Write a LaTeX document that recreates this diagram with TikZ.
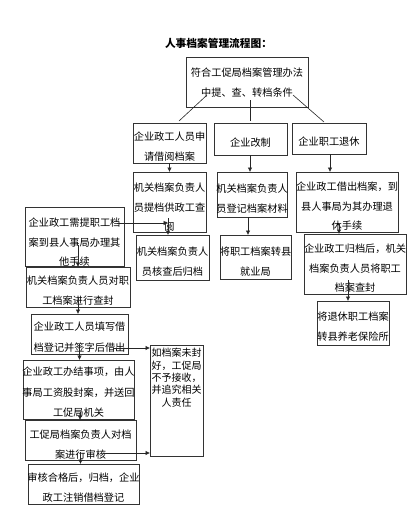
\documentclass[tikz,border=0pt]{standalone}
\usepackage{fontspec}
\newfontfamily\cjk{Noto Sans CJK SC}
\usetikzlibrary{calc,arrows.meta}
\tikzset{
  box/.style={draw=black!80, line width=0.6pt, rectangle, inner sep=0pt, outer sep=0pt},
  txt/.style={inner sep=0pt, outer sep=0pt, align=center, anchor=base, font=\cjk\fontsize{10.2}{19.5}\selectfont},
  txtw/.style={txt, font=\cjk\fontsize{10.2}{20.5}\selectfont},
  txtp/.style={txt, font=\cjk\fontsize{10}{12.3}\selectfont},
  ln/.style={draw=black!85, line width=0.6pt},
  arr/.style={ln, -{Latex[length=4.5pt,width=4.5pt]}}
}
\newcommand\mkbox[5]{%
  \node[box, minimum width={(#4)-(#2)}, minimum height={(#5)-(#3)}] (#1) at ({((#2)+(#4))/2},{((#3)+(#5))/2}) {};}
\begin{document}
\begin{tikzpicture}[x=1pt,y=-1pt]
\useasboundingbox (0,0) rectangle (417,528);
% title
\node[txt, font=\cjk\bfseries\fontsize{10.7}{12}\selectfont] (title) at (218.5,47) {人事档案管理流程图：};
% boxes
\mkbox{T}{186}{57}{308}{107}
\mkbox{A}{133}{123}{206}{163}
\mkbox{B}{214}{123}{287}{155}
\mkbox{C}{292}{123}{366}{154}
\mkbox{D}{133}{172}{206}{232}
\mkbox{E}{217}{172}{287}{217}
\mkbox{F}{296}{172}{398}{232}
\mkbox{G}{304}{234}{406}{294}
\mkbox{H}{317}{301}{389}{345}
\mkbox{I}{136}{235}{209}{280}
\mkbox{J}{220}{235}{291}{279}
\mkbox{K}{25}{207}{124}{266}
\mkbox{L}{26}{267}{130}{307}
\mkbox{M}{31}{314}{128}{354}
\mkbox{N}{23}{360}{134}{419}
\mkbox{Q}{25}{420}{136}{460}
\mkbox{R}{28}{464}{139}{504}
\mkbox{P}{150}{345}{203}{456}
% texts (anchor = baseline of the last line)
\node[txt] (Tt) at (247,96.4) {符合工促局档案管理办法\\中提、查、转档条件};
\node[txt] (At) at (169.5,160.4) {企业政工人员申\\请借阅档案};
\node[txt] (Bt) at (250.5,146.9) {企业改制};
\node[txt] (Ct) at (329,145.9) {企业职工退休};
\node[txt] (Dt) at (169.5,230.9) {机关档案负责人\\员提档供政工查\\阅};
\node[txt] (Et) at (252,212.4) {机关档案负责人\\员登记档案材料};
\node[txt] (Ft) at (347,229.9) {企业政工借出档案，到\\县人事局为其办理退\\休手续};
\node[txt] (Gt) at (355,291.9) {企业政工归档后，机关\\档案负责人员将职工\\档案查封};
\node[txt] (Ht) at (353,340.4) {将退休职工档案\\转县养老保险所};
\node[txt] (It) at (172.5,275.4) {机关档案负责人\\员核查后归档};
\node[txt] (Jt) at (255.5,275.4) {将职工档案转县\\就业局};
\node[txt] (Kt) at (74.5,265.9) {企业政工需提职工档\\案到县人事局办理其\\他手续};
\node[txt] (Lt) at (78,304.4) {机关档案负责人员对职\\工档案进行查封};
\node[txtw] (Mt) at (79.5,351.4) {企业政工人员填写借\\档登记并签字后借出};
\node[txtw] (Nt) at (78.5,416.9) {企业政工办结事项，由人\\事局工资股封案，并送回\\工促局机关};
\node[txt] (Qt) at (80.5,458.4) {工促局档案负责人对档\\案进行审核};
\node[txt] (Rt) at (83.5,501.4) {审核合格后，归档，企业\\政工注销借档登记};
\node[txtp] (Pt) at (176.5,406.0) {如档案未封\\好，工促局\\不予接收，\\并追究相关\\人责任};
% lines from top box
\draw[ln] ($(T.south)+(-40,-12)$) -- ($(A.north)+(9.5,-2)$);
\draw[ln] ($(T.south)+(3,-7)$) -- ($(B.north)+(-0.5,-2)$);
\draw[ln] ($(T.south)+(46,-12)$) -- ($(C.north)+(-5,-1)$);
% arrows
\draw[arr] (A.south) -- (D.north);
\coordinate (b1) at ($(B.south)+(-0.5,0)$);
\draw[arr] (b1) -- (b1 |- E.north);
\coordinate (c1) at ($(C.south)+(1,0)$);
\draw[arr] (c1) -- (c1 |- F.north);
\coordinate (d1) at ($(D.south)+(-1.5,-14)$);
\draw[arr] (d1) -- (d1 |- I.north);
\coordinate (k1) at ($(K.east)+(-7,-13.5)$);
\draw[arr] (k1) -- (k1 -| d1);
\coordinate (e1) at ($(E.south)+(-4,0)$);
\draw[arr] (e1) -- (e1 |- J.north);
\coordinate (f1) at ($(F.south)+(-8,-8)$);
\draw[arr] (f1) -- (f1 |- G.north);
\coordinate (g1) at ($(G.south)+(-7,-14)$);
\draw[arr] (g1) -- (g1 |- H.north);
\coordinate (k2) at ($(K.south)+(3.5,-21)$);
\draw[arr] (k2) -- (k2 |- L.north);
\coordinate (l1) at ($(L.south)+(0,-9)$);
\draw[arr] (l1) -- (l1 |- M.north);
\coordinate (m1) at ($(M.south)+(0,-10)$);
\draw[arr] (m1) -- (m1 |- N.north);
\coordinate (m2) at ($(M.east)+(-15,14)$);
\draw[arr] (m2) -- (m2 -| P.west);
\coordinate (n1) at ($(N.south)+(1.5,-7)$);
\draw[arr] (n1) -- (n1 |- Q.north);
\coordinate (q1) at ($(Q.south)+(0,-8)$);
\draw[arr] (q1) -- (q1 |- R.north);
\coordinate (q2) at ($(Q.east)+(-33,13)$);
\draw[arr] (q2) -- (q2 -| P.west);
\end{tikzpicture}
\end{document}
